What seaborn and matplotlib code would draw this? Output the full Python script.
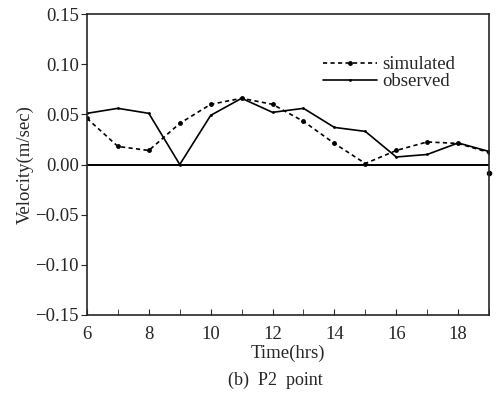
import numpy as np
import pandas as pd
import seaborn as sns
from matplotlib import pyplot as plt
from matplotlib.ticker import MultipleLocator

# values
hours = [6, 7, 8, 9, 10, 11, 12, 13, 14, 15, 16, 17, 18, 19]
simulated = [0.046, 0.018, 0.014, 0.041, 0.060, 0.066, 0.060, 0.043, 0.021, 0.001, 0.014, 0.0225, 0.021, 0.012]
observed = [0.051, 0.056, 0.051, 0.000, 0.049, 0.066, 0.052, 0.056, 0.037, 0.033, 0.0075, 0.010, 0.0215, 0.013]
extra_hour = [19]
extra_sim = [-0.008]

df = pd.DataFrame({'hour': hours, 'simulated': simulated, 'observed': observed})

sns.set_style('ticks')
plt.rcParams['font.family'] = ['Liberation Serif', 'DejaVu Serif']
plt.rcParams['font.size'] = 13.5

fig = plt.figure(figsize=(4.97, 4.01), dpi=100)
ax = fig.add_axes([0.175, 0.2145, 0.809, 0.7505])

sns.lineplot(data=df, x='hour', y='simulated', ax=ax, color='black', linestyle=(0, (2.5, 2)),
             linewidth=1.2, marker='o', markersize=3.5, markeredgewidth=0, label='simulated')
sns.lineplot(data=df, x='hour', y='observed', ax=ax, color='black', linestyle='-',
             linewidth=1.2, marker='o', markersize=2, markeredgewidth=0, label='observed')
ax.plot(extra_hour, extra_sim, 'o', color='black', markersize=3, clip_on=False)
ax.axhline(0, color='black', linewidth=1.4)

ax.set_xlim(6, 19)
ax.set_ylim(-0.15, 0.15)
ax.xaxis.set_major_locator(MultipleLocator(2))
ax.xaxis.set_minor_locator(MultipleLocator(1))
ax.set_yticks([-0.15, -0.10, -0.05, 0.00, 0.05, 0.10, 0.15])
ax.set_yticklabels(['\u22120.15', '\u22120.10', '\u22120.05', '0.00', '0.05', '0.10', '0.15'])
ax.tick_params(axis='x', which='both', direction='in', length=4, pad=8)
ax.tick_params(axis='y', direction='out', length=4, pad=2)
for s in ax.spines.values():
    s.set_linewidth(1.2)

ax.set_xlabel('Time(hrs)', labelpad=1)
ax.set_ylabel('Velocity(m/sec)', labelpad=1)
ax.legend(loc='upper right', bbox_to_anchor=(0.935, 0.885), frameon=False, handlelength=2.9,
          handletextpad=0.3, labelspacing=0.0, borderaxespad=0.0)

fig.text(0.555, 0.04, '(b)  P2  point', ha='center', fontsize=13)

plt.savefig('out.png', dpi=100)
